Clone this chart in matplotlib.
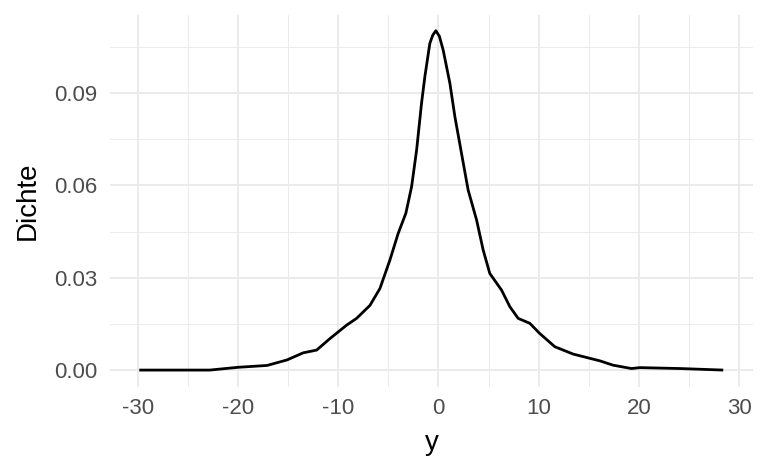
import matplotlib
matplotlib.use("Agg")
import matplotlib.pyplot as plt
import numpy as np

# density curve
y_vals = [-29.84, -22.8, -20.0, -17.1, -15.1, -13.5, -12.15, -10.8, -9.16, -8.17,
          -6.84, -5.84, -4.85, -4.02, -3.25, -2.68, -2.18, -1.69, -1.36, -0.86,
          -0.56, -0.26, 0.09, 0.47, 1.14, 1.64, 2.3, 2.96, 3.8, 4.46, 5.12, 6.29,
          7.12, 7.95, 9.11, 10.1, 11.6, 13.43, 16.1, 17.4, 19.25, 20.1,
          24.1, 28.4]
dichte = [0.0, 0.0, 0.0009, 0.0015, 0.0033, 0.0056, 0.0065, 0.0103, 0.0146, 0.0168,
          0.021, 0.0265, 0.0357, 0.0444, 0.051, 0.0596, 0.0715, 0.0867, 0.0953, 0.1062,
          0.1089, 0.1103, 0.1085, 0.104, 0.0932, 0.0823, 0.0704, 0.0585, 0.0488, 0.039, 0.0314, 0.026,
          0.0206, 0.0168, 0.0152, 0.0119, 0.0076, 0.0052, 0.003, 0.0016, 0.0005, 0.0008,
          0.0005, 0.0]

x_ticks = [-30, -20, -10, 0, 10, 20, 30]
y_ticks = [0.0, 0.03, 0.06, 0.09]
y_labels = ["0.00", "0.03", "0.06", "0.09"]

plt.rcParams['font.family'] = ['Liberation Sans', 'DejaVu Sans']

fig = plt.figure(figsize=(7.68, 4.74), dpi=100)
ax = fig.add_axes([110 / 768, 1 - 387 / 474, (753 - 110) / 768, (387 - 15) / 474])

ax.plot(y_vals, dichte, color="black", linewidth=2.0, solid_capstyle="butt",
        solid_joinstyle="round")

ax.set_xlim(-32.76, 31.37)
ax.set_ylim(-0.0055, 0.1154)

ax.set_xticks(x_ticks)
ax.set_xticklabels([str(t) for t in x_ticks])
ax.set_yticks(y_ticks)
ax.set_yticklabels(y_labels)
ax.set_xticks([-25, -15, -5, 5, 15, 25], minor=True)
ax.set_yticks([0.015, 0.045, 0.075, 0.105], minor=True)

ax.grid(True, which="major", color="#EBEBEB", linewidth=1.4)
ax.grid(True, which="minor", color="#EBEBEB", linewidth=0.7)
ax.set_axisbelow(True)
for s in ax.spines.values():
    s.set_visible(False)
ax.tick_params(which="both", length=0)
ax.tick_params(axis="both", labelsize=16, colors="#4D4D4D")
ax.tick_params(axis="x", pad=7.6)
ax.tick_params(axis="y", pad=9.4)

ax.set_xlabel("y", fontsize=20, labelpad=8)
ax.set_ylabel("Dichte", fontsize=20, labelpad=9)

fig.savefig("out.png", dpi=100)
